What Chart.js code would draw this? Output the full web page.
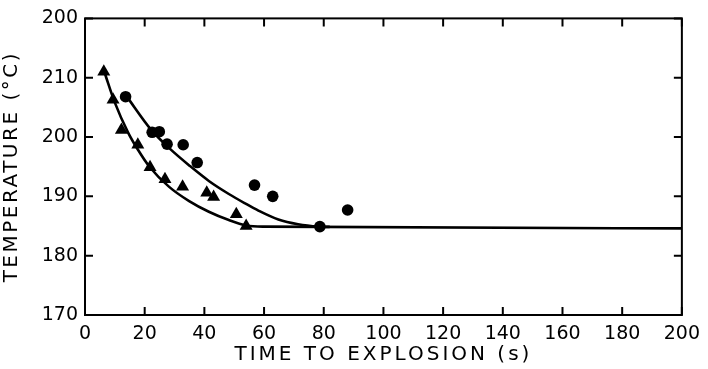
<!DOCTYPE html>
<html><head><meta charset="utf-8">
<script src="https://cdn.jsdelivr.net/npm/chart.js@4.4.1/dist/chart.umd.min.js"></script>
<style>html,body{margin:0;padding:0;background:#fff}#wrap{width:708px;height:369px}</style>
</head><body><div id="wrap"><canvas id="c" width="708" height="369"></canvas></div>
<script>
// Measured points (triangles)
const triX = [6.3, 9.4, 12.2, 17.7, 21.8, 26.8, 32.7, 40.8, 43.1, 50.7, 54.0];
const triY = [211.0, 206.3, 201.2, 198.7, 194.9, 192.9, 191.6, 190.6, 189.9, 187.0, 185.0];
// Measured points (circles)
const cirX = [13.6, 22.5, 24.9, 27.5, 32.9, 37.6, 56.8, 62.9, 78.7, 88.0];
const cirY = [206.8, 200.8, 200.9, 198.8, 198.7, 195.7, 191.9, 190.0, 184.9, 187.7];
// Fitted curve (triangles)
const triCurveX = [6.6, 10.0, 14.4, 17.7, 21.6, 28.2, 34.9, 41.5, 48.2, 54.0, 60.0, 200];
const triCurveY = [210.8, 205.8, 200.8, 197.9, 195.0, 191.6, 189.2, 187.4, 186.0, 185.1, 184.9, 184.6];
// Fitted curve (circles)
const cirCurveX = [13.9, 22.2, 28.5, 35.2, 41.5, 48.2, 53.7, 58.1, 64.8, 71.4, 78.3, 82.0];
const cirCurveY = [206.9, 201.2, 198.0, 195.1, 192.6, 190.4, 188.8, 187.6, 186.1, 185.3, 184.9, 184.85];
// Axis ticks
const xTickValues = [0, 20, 40, 60, 80, 100, 120, 140, 160, 180, 200];
const xTickLabels = ['0', '20', '40', '60', '80', '100', '120', '140', '160', '180', '200'];
const yTickValues = [170, 180, 190, 200, 210, 220];
const yTickLabels = ['170', '180', '190', '200', '210', '200'];

const pts = (xs, ys) => xs.map((x, i) => ({x, y: ys[i]}));
const FONT = "'DejaVu Sans', sans-serif";

const frame = {
  id: 'frame',
  afterDraw(chart) {
    const {ctx, chartArea: a, scales: {x, y}} = chart;
    ctx.save();
    ctx.strokeStyle = '#000';
    ctx.lineWidth = 2;
    ctx.strokeRect(a.left, a.top, a.right - a.left, a.bottom - a.top);
    const L = 8;
    ctx.beginPath();
    xTickValues.forEach(v => {
      const px = x.getPixelForValue(v);
      ctx.moveTo(px, a.bottom); ctx.lineTo(px, a.bottom - L);
      ctx.moveTo(px, a.top); ctx.lineTo(px, a.top + L);
    });
    yTickValues.forEach(v => {
      const py = y.getPixelForValue(v);
      ctx.moveTo(a.left, py); ctx.lineTo(a.left + L, py);
      ctx.moveTo(a.right, py); ctx.lineTo(a.right - L, py);
    });
    ctx.stroke();
    ctx.restore();
  }
};

function spacedTitle(s, sp) {
  if (s._spaced) return;
  s._spaced = true;
  const orig = s.drawTitle;
  s.drawTitle = function () {
    const ctx = this.ctx;
    const prev = ctx.letterSpacing;
    ctx.letterSpacing = sp;
    orig.apply(this, arguments);
    ctx.letterSpacing = prev || '0px';
  };
}

new Chart(document.getElementById('c'), {
  type: 'scatter',
  data: {
    datasets: [
      {data: pts(triCurveX, triCurveY), showLine: true, borderColor: '#000', borderWidth: 2.6,
       pointRadius: 0, cubicInterpolationMode: 'monotone', fill: false},
      {data: pts(cirCurveX, cirCurveY), showLine: true, borderColor: '#000', borderWidth: 2.6,
       pointRadius: 0, cubicInterpolationMode: 'monotone', fill: false},
      {data: pts(triX, triY), pointStyle: 'triangle', pointRadius: 7.5, backgroundColor: '#000', borderColor: '#000', borderWidth: 0},
      {data: pts(cirX, cirY), pointStyle: 'circle', pointRadius: 5.8, backgroundColor: '#000', borderColor: '#000', borderWidth: 0}
    ]
  },
  options: {
    responsive: false,
    animation: false,
    layout: {padding: {top: 18, right: 21, left: 0, bottom: 0}},
    plugins: {legend: {display: false}, tooltip: {enabled: false}},
    scales: {
      x: {
        type: 'linear', min: 0, max: 200,
        afterBuildTicks: s => { s.ticks = xTickValues.map(v => ({value: v})); },
        afterFit: s => { s.height = 54; spacedTitle(s, '3px'); },
        grid: {display: false, drawTicks: false},
        border: {display: false},
        ticks: {color: '#000', font: {family: FONT, size: 19}, padding: 8, maxRotation: 0,
                callback: v => xTickLabels[xTickValues.indexOf(v)]},
        title: {display: true, text: 'TIME TO EXPLOSION (s)', color: '#000',
                font: {family: FONT, size: 20}, padding: {top: 0, bottom: 2}}
      },
      y: {
        type: 'linear', min: 170, max: 220,
        afterBuildTicks: s => { s.ticks = yTickValues.map(v => ({value: v})); },
        afterFit: s => { s.width = 85; spacedTitle(s, '2.5px'); },
        grid: {display: false, drawTicks: false},
        border: {display: false},
        ticks: {color: '#000', font: {family: FONT, size: 19}, padding: 7,
                callback: v => yTickLabels[yTickValues.indexOf(v)]},
        title: {display: true, text: 'TEMPERATURE (°C)', color: '#000',
                font: {family: FONT, size: 20}, padding: {top: 0, bottom: 0}}
      }
    }
  },
  plugins: [frame]
});
</script></body></html>
